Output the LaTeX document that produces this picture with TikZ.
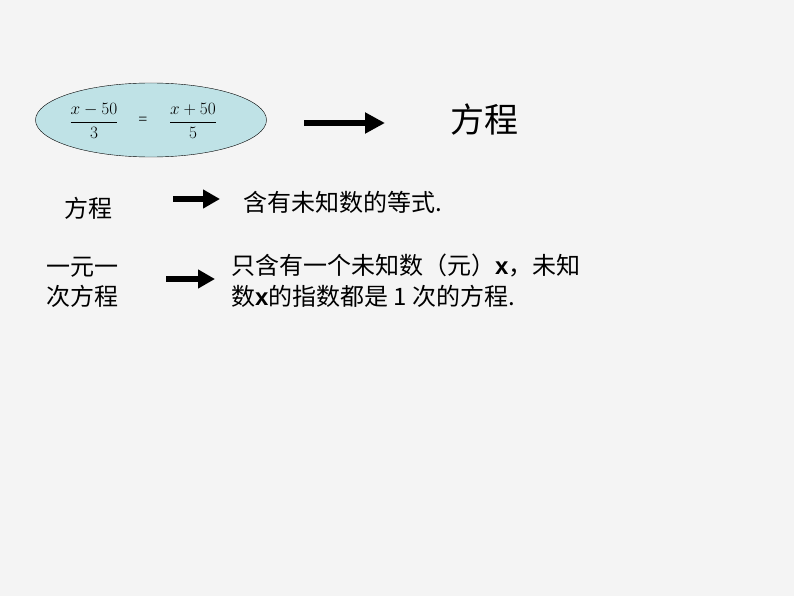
\documentclass[tikz,border=0pt]{standalone}
\usepackage{fontspec}
\setmainfont{Liberation Serif}
\newfontfamily\cjk{Noto Sans CJK SC}
\newfontfamily\sans{Liberation Sans}
\usetikzlibrary{arrows.meta,shapes.geometric}
\definecolor{bg}{HTML}{F4F4F4}
\definecolor{ell}{HTML}{BFE2E6}
\tikzset{
  bigarrow/.style={line width=6pt,-{Triangle[length=20pt,width=20pt]}},
  midarrow/.style={line width=6pt,-{Triangle[length=17pt,width=18pt]}},
  cn/.style={font=\cjk\fontsize{24}{30}\selectfont,inner sep=0pt},
  frac/.style={font=\fontsize{16}{20}\selectfont,inner sep=0pt},
}
\begin{document}
\begin{tikzpicture}[x=1pt,y=-1pt]
\fill[bg] (0,0) rectangle (794,596);
\useasboundingbox (0,0) rectangle (794,596);
\node[draw=black,fill=ell,ellipse,minimum width=231pt,minimum height=74pt,inner sep=0pt] (eq) at (151,120) {};
\node[frac] (f1) at (94,121) {$\displaystyle\frac{x-50}{3}$};
\node[frac] (eqs) at (143,121) {=};
\node[frac] (f2) at (193,121) {$\displaystyle\frac{x+50}{5}$};
\node[cn,font=\cjk\fontsize{34}{40}\selectfont] (fc) at (484,120) {方程};
\coordinate (a1s) at (304,123); \coordinate (a1e) at (385,123);
\draw[bigarrow] (a1s) -- (a1e);
\node[cn] (l1) at (88,208) {方程};
\coordinate (a2s) at (173,199); \coordinate (a2e) at (220,199);
\draw[midarrow] (a2s) -- (a2e);
\node[cn,anchor=west] (t1) at (243,202) {含有未知数的等式.};
\node[cn] (l2a) at (82,267) {一元一};
\node[cn] (l2b) at (82,296) {次方程};
\coordinate (a3s) at (166,279); \coordinate (a3e) at (215,279);
\draw[midarrow] (a3s) -- (a3e);
\node[cn,anchor=west] (t2a) at (231,266) {只含有一个未知数（元）{\sans\bfseries x}，未知};
\node[cn,anchor=west] (t2b) at (231,296) {数{\sans\bfseries x}的指数都是 1 次的方程.};
\end{tikzpicture}
\end{document}
